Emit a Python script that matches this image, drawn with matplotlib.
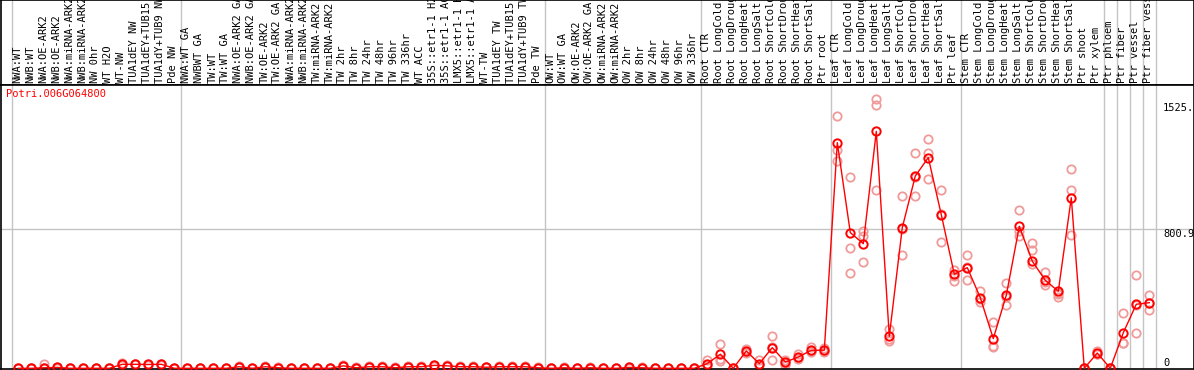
import numpy as np
import matplotlib
matplotlib.use("Agg")
import matplotlib.pyplot as plt
import matplotlib.transforms as mtransforms

gene = "Potri.006G064800"

samples = [
    "NWA:WT", "NWB:WT", "NWA:OE-ARK2", "NWB:OE-ARK2", "NWA:miRNA-ARK2", "NWB:miRNA-ARK2",
    "NW 0hr", "WT H2O", "WT-NW", "TUA1dEY NW", "TUA1dEY+TUB15 NW", "TUA1dY+TUB9 NW", "Pde NW",
    "NWA:WT GA", "NWBWT GA", "TW:WT", "TW:WT GA", "NWA:OE-ARK2 GA", "NWB:OE-ARK2 GA",
    "TW:OE-ARK2", "TW:OE-ARK2 GA", "NWA:miRNA-ARK2", "NWB:miRNA-ARK2", "TW:miRNA-ARK2",
    "TW:miRNA-ARK2", "TW 2hr", "TW 8hr", "TW 24hr", "TW 48hr", "TW 96hr", "TW 336hr",
    "WT ACC", "35S::etr1-1 H2O", "35S::etr1-1 ACC", "LMX5::etr1-1 H2O", "LMX5::etr1-1 ACC",
    "WT-TW", "TUA1dEY TW", "TUA1dEY+TUB15 TW", "TUA1dY+TUB9 TW", "Pde TW",
    "OW:WT", "OW:WT GA", "OW:OE-ARK2", "OW:OE-ARK2 GA", "OW:miRNA-ARK2", "OW:miRNA-ARK2",
    "OW 2hr", "OW 8hr", "OW 24hr", "OW 48hr", "OW 96hr", "OW 336hr",
    "Root CTR", "Root LongCold", "Root LongDrought", "Root LongHeat", "Root LongSalt",
    "Root ShortCold", "Root ShortDrought", "Root ShortHeat", "Root ShortSalt", "Ptr root",
    "Leaf CTR", "Leaf LongCold", "Leaf LongDrought", "Leaf LongHeat", "Leaf LongSalt",
    "Leaf ShortCold", "Leaf ShortDrought", "Leaf ShortHeat", "Leaf ShortSalt", "Ptr leaf",
    "Stem CTR", "Stem LongCold", "Stem LongDrought", "Stem LongHeat", "Stem LongSalt",
    "Stem ShortCold", "Stem ShortDrought", "Stem ShortHeat", "Stem ShortSalt", "Ptr shoot",
    "Ptr xylem", "Ptr phloem", "Ptr fiber", "Ptr vessel", "Ptr fiber vessel",
]
group_sizes = [13, 28, 12, 10, 10, 11, 1, 1, 1, 1]

means = [
    0, 0, 3, 5, 0, 0, 0, 0, 23, 23, 22, 23, 0,
    0, 0, 0, 0, 9, 0, 9, 3, 0, 0, 0, 0, 14, 3, 9, 9, 3, 9, 9, 17, 14, 9, 9, 6, 9, 9, 9, 3,
    0, 3, 0, 3, 0, 0, 5, 3, 0, 0, 0, 0,
    27, 81, 0, 100, 27, 119, 36, 65, 104, 104,
    1300, 782, 718, 1365, 184, 811, 1108, 1214, 885, 542,
    580, 407, 171, 421, 818, 617, 507, 444, 983, 0,
    88, 0, 205, 369, 378,
]
rep_a = [
    0, 0, 25, 8, 0, 0, 0, 0, 28, 25, 24, 26, 0,
    0, 0, 0, 0, 12, 0, 12, 5, 0, 0, 0, 0, 18, 5, 12, 12, 5, 12, 12, 20, 17, 12, 12, 8, 12, 12, 12, 5,
    0, 5, 0, 5, 0, 0, 8, 5, 0, 0, 0, 0,
    46, 142, 3, 110, 46, 184, 50, 80, 120, 118,
    1452, 1102, 789, 1554, 229, 991, 1243, 1323, 1030, 565,
    651, 444, 267, 494, 910, 720, 553, 409, 1151, 0,
    100, 0, 321, 536, 421,
]
rep_b = [
    0, 0, 2, 4, 0, 0, 0, 0, 20, 22, 21, 22, 0,
    0, 0, 0, 0, 8, 0, 8, 2, 0, 0, 0, 0, 12, 2, 8, 8, 2, 8, 8, 16, 13, 8, 8, 5, 8, 8, 8, 2,
    0, 2, 0, 2, 0, 0, 4, 2, 0, 0, 0, 0,
    20, 40, 0, 95, 17, 50, 17, 60, 100, 100,
    1260, 695, 760, 1519, 156, 651, 991, 1241, 730, 501,
    507, 382, 123, 363, 790, 680, 478, 432, 1030, 0,
    85, 0, 148, 204, 338,
]
rep_c = [
    0, 0, 0, 3, 0, 0, 0, 0, 21, 22, 21, 21, 0,
    0, 0, 0, 0, 7, 0, 7, 2, 0, 0, 0, 0, 12, 2, 7, 7, 2, 7, 7, 15, 12, 7, 7, 5, 7, 7, 7, 2,
    0, 2, 0, 2, 0, 0, 3, 2, 0, 0, 0, 0,
    15, 52, 0, 90, 20, 125, 30, 55, 95, 95,
    1193, 551, 612, 1026, 170, 800, 1100, 1093, 890, 530,
    585, 400, 130, 410, 760, 600, 500, 430, 766, 0,
    80, 0, 145, 367, 375,
]

ytick_vals = [0, 800.9, 1525.8]
ytick_text = ["0", "800.9", "1525."]

W, H = 1194, 370
fig = plt.figure(figsize=(W / 100, H / 100), dpi=100)
mono = "DejaVu Sans Mono"
fs = 7.5

x0, dx = 18.3, 13.0  # pixel of first sample, pixel step
xl = ((0.5 - x0) / dx, (W - 0.5 - x0) / dx)

ax_head = fig.add_axes([0.5 / W, (H - 85) / H, (W - 1) / W, 85 / H])
ax = fig.add_axes([0.5 / W, 1 / H, (W - 1) / W, 284 / H])

px = 5.762
ax.set_ylim(-0.7 * px, 284 * px - 0.7 * px)
for a in (ax_head, ax):
    a.set_xlim(*xl)
    a.set_xticks([])
    a.set_yticks([])
    for s in a.spines.values():
        s.set_linewidth(1.2)
        s.set_color("black")
ax_head.set_ylim(0, 1)

x = np.arange(len(samples))
bounds = np.cumsum([0] + group_sizes) - 0.5
for b in bounds:
    ax.axvline(b, color="#c4c4c4", lw=1, zorder=0)
    ax_head.axvline(b, color="#c4c4c4", lw=1, zorder=0)
ax.axhline(ytick_vals[1], color="#c4c4c4", lw=1, zorder=0)

# sample labels
tr = mtransforms.blended_transform_factory(ax_head.transData, ax_head.transAxes)
for i, lab in enumerate(samples):
    ax_head.text(i - 0.08, 0.025, lab, rotation=90, ha="center", va="bottom",
                 family=mono, fontsize=fs, transform=tr, clip_on=True)

# replicates
for rep in (rep_a, rep_b, rep_c):
    ax.plot(x, rep, ls="none", marker="o", ms=6, mfc="none", mec="#f09a9a", mew=1.3, zorder=2)
ax.plot(x, means, color="red", lw=1, marker="o", ms=6, mfc="none", mec="red", mew=1.4, zorder=3)

ax.text(5.5 / 1193, 0.985, gene, color="red", family=mono, fontsize=fs,
        transform=ax.transAxes, ha="left", va="top")

ty = mtransforms.blended_transform_factory(ax.transAxes, ax.transData)
for v, t in zip(ytick_vals, ytick_text):
    ax.text((1163 - 0.5) / 1193, v, t, family=mono, fontsize=fs, transform=ty,
            ha="left", va="bottom" if v == 0 else "top")

fig.savefig("out.png", dpi=100)
